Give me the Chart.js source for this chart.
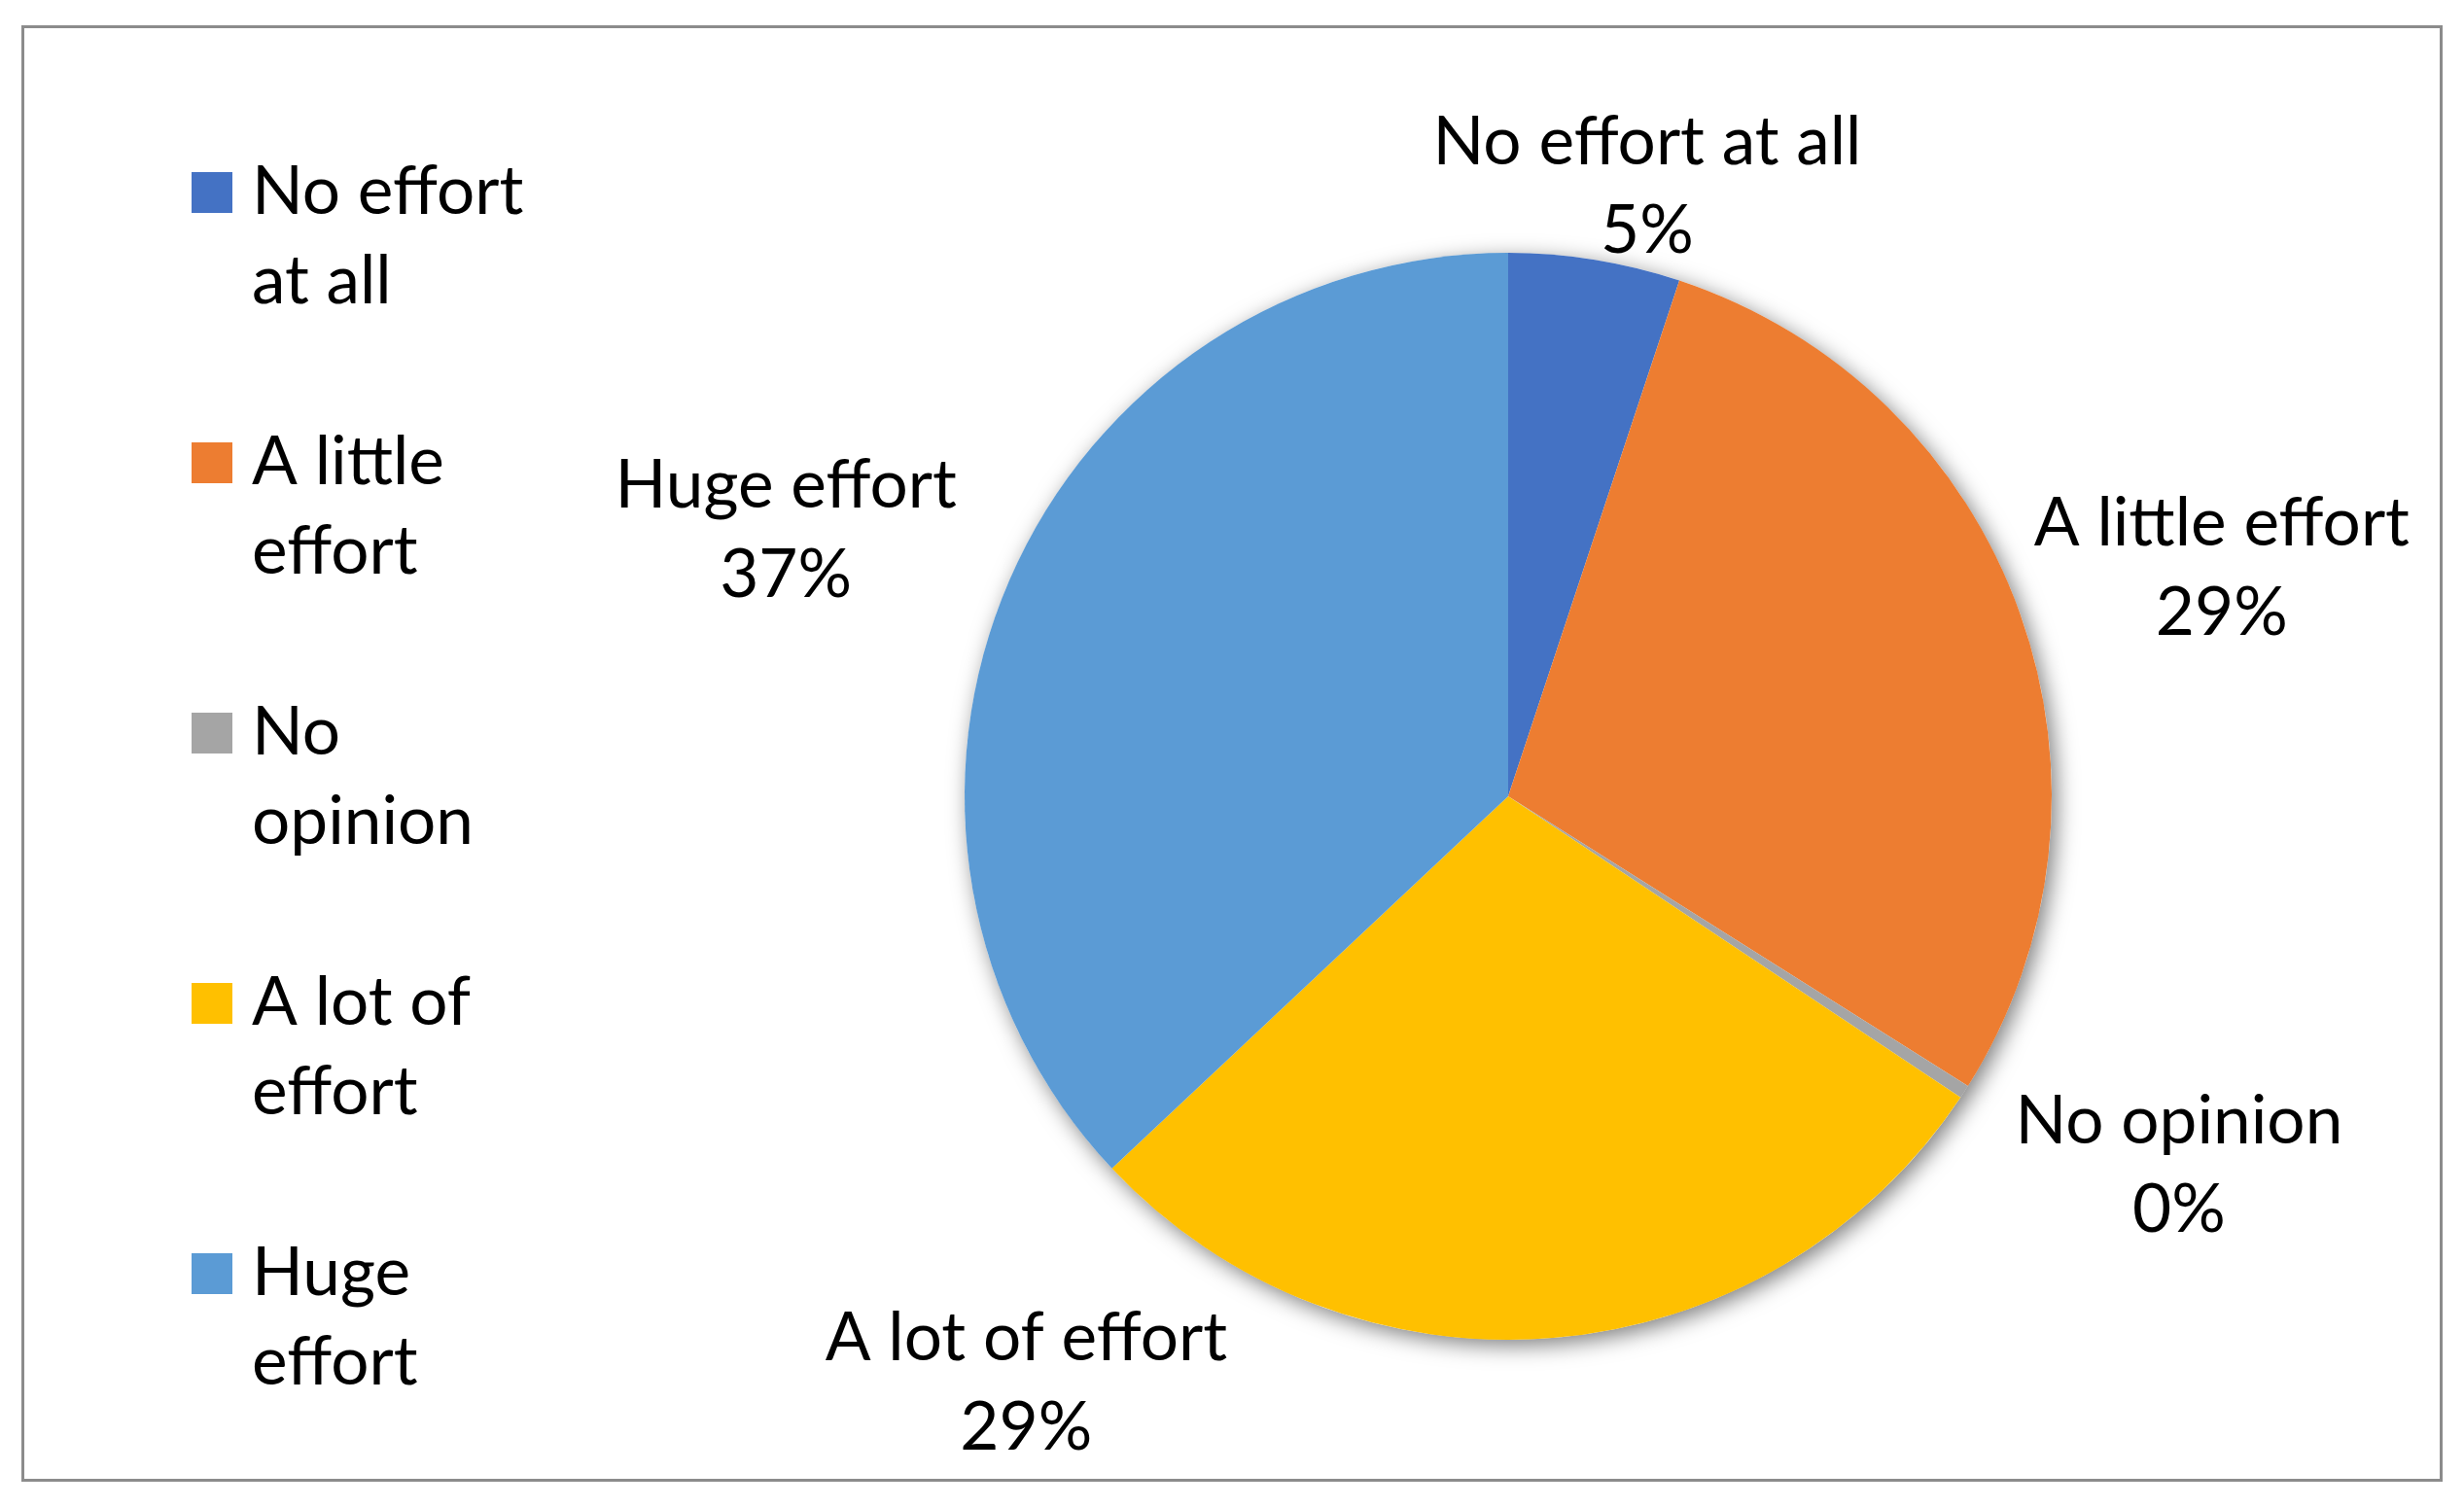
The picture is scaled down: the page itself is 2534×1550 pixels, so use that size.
<!DOCTYPE html>
<html>
<head>
<meta charset="utf-8">
<title>Effort</title>
<script src="https://cdn.jsdelivr.net/npm/chart.js@4.4.1/dist/chart.umd.min.js"></script>
<style>
  html, body { margin: 0; padding: 0; background: #fff; }
  #wrap { position: relative; width: 2534px; height: 1550px; }
  #frame {
    position: absolute; left: 22px; top: 26px; width: 2484px; height: 1492px;
    border: 3px solid #8c8c8c; pointer-events: none;
  }
</style>
</head>
<body>
<div id="wrap">
  <canvas id="pieChart"></canvas>
  <div id="frame"></div>
</div>
<script>
// ============================
// Données
// ============================
const categories = ['No effort at all', 'A little effort', 'No opinion', 'A lot of effort', 'Huge effort'];
const shares = [5.1, 28.85, 0.4, 28.65, 37.0];
const colors = ['#4472C4', '#ED7D31', '#A5A5A5', '#FFC000', '#5B9BD5'];

const FONT = 'Lato, "Open Sans", sans-serif';

// taille de police ajustée pour imiter la largeur de Calibri
function fitFontSize(ctx) {
    ctx.font = '100px ' + FONT;
    const w = ctx.measureText('No effort at all').width;
    return 100 * 441 / w;
}

function wrapText(ctx, text, maxWidth) {
    const words = text.split(' ');
    const lines = [];
    let line = '';
    words.forEach(w => {
        const test = line ? line + ' ' + w : w;
        if (line && ctx.measureText(test).width > maxWidth) {
            lines.push(line);
            line = w;
        } else {
            line = test;
        }
    });
    if (line) lines.push(line);
    return lines;
}

const pieDecor = {
    id: 'pieDecor',
    beforeDatasetsDraw(chart) {
        const arc = chart.getDatasetMeta(0).data[0];
        const ctx = chart.ctx;
        ctx.save();
        ctx.shadowColor = 'rgba(0,0,0,0.5)';
        ctx.shadowBlur = 22;
        ctx.shadowOffsetX = 5;
        ctx.shadowOffsetY = 6;
        ctx.fillStyle = '#fff';
        ctx.beginPath();
        ctx.arc(arc.x, arc.y, arc.outerRadius, 0, Math.PI * 2);
        ctx.fill();
        ctx.restore();
    },
    afterDraw(chart, args, opts) {
        const ctx = chart.ctx;
        const meta = chart.getDatasetMeta(0);
        const data = chart.data.datasets[0].data;
        const total = data.reduce((a, b) => a + b, 0);
        const fs = fitFontSize(ctx);
        const lh = fs * 1.32;
        ctx.save();
        ctx.font = fs + 'px ' + FONT;
        ctx.fillStyle = '#000';
        ctx.textBaseline = 'middle';

        // étiquettes des parts
        ctx.textAlign = 'center';
        meta.data.forEach((arc, i) => {
            const p = opts.placement[i];
            const a = (p.angle - 90) * Math.PI / 180;
            const cx = arc.x + Math.cos(a) * arc.outerRadius * p.dist;
            const cy = arc.y + Math.sin(a) * arc.outerRadius * p.dist;
            const pct = Math.round(data[i] / total * 100) + '%';
            ctx.fillText(chart.data.labels[i], cx, cy - lh / 2);
            ctx.fillText(pct, cx, cy + lh / 2);
        });

        // légende
        ctx.textAlign = 'left';
        const lg = opts.legend;
        chart.data.labels.forEach((label, i) => {
            const y = lg.top + i * lg.step;
            ctx.fillStyle = colors[i];
            ctx.fillRect(lg.x, y - lg.box / 2, lg.box, lg.box);
            ctx.fillStyle = '#000';
            const lines = wrapText(ctx, label, fs * lg.wrapEm);
            lines.forEach((l, k) => ctx.fillText(l, lg.textX, y + k * lh));
        });
        ctx.restore();
    }
};

const ctx = document.getElementById('pieChart').getContext('2d');
const pieChart = new Chart(ctx, {
    type: 'pie',
    data: {
        labels: categories,
        datasets: [{
            data: shares,
            backgroundColor: colors,
            borderWidth: 0
        }]
    },
    options: {
        responsive: true,
        maintainAspectRatio: false,
        animation: false,
        layout: { padding: { left: 992, right: 424, top: 260, bottom: 172 } },
        plugins: {
            legend: { display: false },
            tooltip: { enabled: false },
            pieDecor: {
                placement: [
                    { angle: 12.85, dist: 1.150 },
                    { angle: 72.3, dist: 1.378 },
                    { angle: 118.85, dist: 1.409 },
                    { angle: 219.4, dist: 1.397 },
                    { angle: 290.2, dist: 1.416 }
                ],
                legend: { x: 197, textX: 259, top: 198, step: 278, box: 42, wrapEm: 4.1 }
            }
        }
    },
    plugins: [pieDecor]
});
</script>
</body>
</html>
